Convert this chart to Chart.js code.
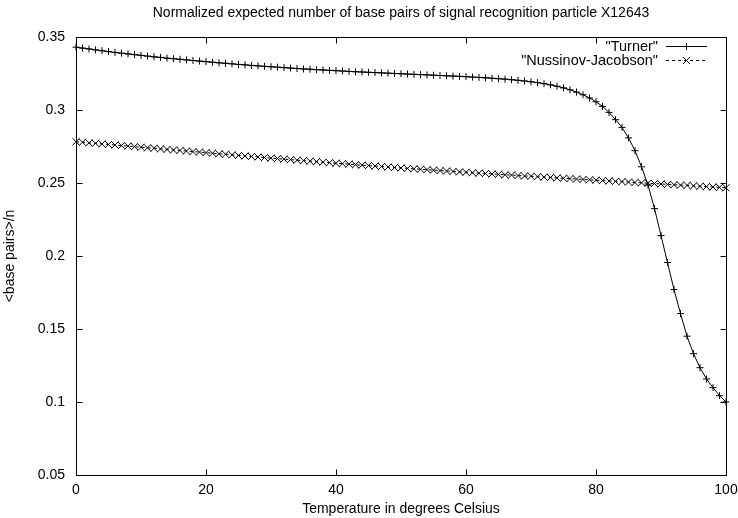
<!DOCTYPE html>
<html>
<head>
<meta charset="utf-8">
<script src="https://cdn.jsdelivr.net/npm/chart.js@4"></script>
<style>
  html, body { margin: 0; padding: 0; background: #fff; }
</style>
</head>
<body>
<canvas id="chart" width="738" height="518"></canvas>
<script>
const chartTitle = "Normalized expected number of base pairs of signal recognition particle X12643";
const xTitle = "Temperature in degrees Celsius";
const yTitle = "<base pairs>/n";
const seriesLabels = ['"Turner"', '"Nussinov-Jacobson"'];

const temperatures = [
  0, 1, 2, 3, 4, 5, 6, 7, 8, 9, 10, 11, 12, 13, 14, 15, 16, 17, 18, 19,
  20, 21, 22, 23, 24, 25, 26, 27, 28, 29, 30, 31, 32, 33, 34, 35, 36, 37, 38, 39,
  40, 41, 42, 43, 44, 45, 46, 47, 48, 49, 50, 51, 52, 53, 54, 55, 56, 57, 58, 59,
  60, 61, 62, 63, 64, 65, 66, 67, 68, 69, 70, 71, 72, 73, 74, 75, 76, 77, 78, 79,
  80, 81, 82, 83, 84, 85, 86, 87, 88, 89, 90, 91, 92, 93, 94, 95, 96, 97, 98, 99, 100
];

const turner = [
  0.3432, 0.3426, 0.3420, 0.3414, 0.3408, 0.3402, 0.3396, 0.3391, 0.3386, 0.3381,
  0.3376, 0.3371, 0.3366, 0.3362, 0.3357, 0.3353, 0.3349, 0.3345, 0.3341, 0.3337,
  0.3333, 0.3329, 0.3325, 0.3322, 0.3318, 0.3314, 0.3311, 0.3307, 0.3304, 0.3301,
  0.3298, 0.3295, 0.3292, 0.3289, 0.3286, 0.3283, 0.3281, 0.3278, 0.3276, 0.3273,
  0.3271, 0.3269, 0.3266, 0.3264, 0.3262, 0.3260, 0.3258, 0.3256, 0.3254, 0.3252,
  0.3250, 0.3248, 0.3246, 0.3244, 0.3242, 0.3240, 0.3238, 0.3236, 0.3234, 0.3232,
  0.3230, 0.3227, 0.3225, 0.3222, 0.3219, 0.3216, 0.3213, 0.3209, 0.3205, 0.3200,
  0.3195, 0.3189, 0.3182, 0.3174, 0.3164, 0.3153, 0.3140, 0.3124, 0.3106, 0.3084,
  0.3058, 0.3026, 0.2985, 0.2935, 0.2882, 0.2810, 0.2722, 0.2612, 0.2487, 0.2325,
  0.2140, 0.1955, 0.1770, 0.1605, 0.1450, 0.1330, 0.1234, 0.1157, 0.1097, 0.1042,
  0.0999
];

const nussinovJacobson = [
  0.2784, 0.2780, 0.2776, 0.2773, 0.2769, 0.2765, 0.2761, 0.2757, 0.2754, 0.2750,
  0.2746, 0.2742, 0.2739, 0.2735, 0.2731, 0.2727, 0.2724, 0.2720, 0.2716, 0.2713,
  0.2709, 0.2705, 0.2701, 0.2698, 0.2694, 0.2690, 0.2686, 0.2683, 0.2679, 0.2675,
  0.2671, 0.2668, 0.2664, 0.2661, 0.2657, 0.2654, 0.2650, 0.2647, 0.2643, 0.2640,
  0.2636, 0.2633, 0.2630, 0.2626, 0.2623, 0.2620, 0.2617, 0.2614, 0.2610, 0.2607,
  0.2604, 0.2601, 0.2598, 0.2595, 0.2592, 0.2589, 0.2586, 0.2583, 0.2580, 0.2577,
  0.2574, 0.2571, 0.2568, 0.2566, 0.2563, 0.2560, 0.2557, 0.2555, 0.2552, 0.2549,
  0.2547, 0.2544, 0.2541, 0.2539, 0.2536, 0.2533, 0.2531, 0.2528, 0.2525, 0.2523,
  0.2520, 0.2517, 0.2515, 0.2512, 0.2510, 0.2507, 0.2504, 0.2502, 0.2499, 0.2497,
  0.2494, 0.2491, 0.2489, 0.2486, 0.2484, 0.2481, 0.2478, 0.2476, 0.2473, 0.2471,
  0.2468
];

const fontFamily = '"Liberation Sans", Arial, Helvetica, sans-serif';

function toPoints(values) {
  return values.map((v, i) => ({ x: temperatures[i], y: v }));
}

// gnuplot style: full border, ticks pointing inward on all four sides
const framePlugin = {
  id: "frame",
  beforeDatasetsDraw(chart) {
    const { ctx, chartArea: a, scales } = chart;
    const left = Math.round(a.left) + 0.5;
    const right = Math.round(a.right) + 0.5;
    const top = Math.round(a.top) + 0.5;
    const bottom = Math.round(a.bottom) + 0.5;
    ctx.save();
    ctx.strokeStyle = "#000";
    ctx.lineWidth = 1;
    ctx.beginPath();
    scales.x.ticks.forEach((t) => {
      const px = Math.round(scales.x.getPixelForValue(t.value)) + 0.5;
      ctx.moveTo(px, bottom);
      ctx.lineTo(px, bottom - 6);
      ctx.moveTo(px, top);
      ctx.lineTo(px, top + 6);
    });
    scales.y.ticks.forEach((t) => {
      const py = Math.round(scales.y.getPixelForValue(t.value)) + 0.5;
      ctx.moveTo(left, py);
      ctx.lineTo(left + 6, py);
      ctx.moveTo(right, py);
      ctx.lineTo(right - 6, py);
    });
    ctx.stroke();
    ctx.strokeRect(left, top, right - left, bottom - top);
    ctx.restore();
  },
  afterDraw(chart) {
    const { ctx, chartArea: a } = chart;
    ctx.save();
    ctx.font = "14.5px " + fontFamily;
    ctx.textAlign = "right";
    ctx.textBaseline = "middle";
    ctx.fillStyle = "#000";
    const textRight = a.right - 68;
    const lineStart = a.right - 60;
    const lineEnd = a.right - 19;
    chart.data.datasets.forEach((ds, i) => {
      const y = Math.round(a.top + 9 + i * 13.5) + 0.5;
      ctx.fillText(ds.label, textRight, y);
      ctx.save();
      ctx.strokeStyle = "#000";
      ctx.lineWidth = 1;
      ctx.setLineDash(ds.borderDash || []);
      ctx.beginPath();
      ctx.moveTo(lineStart, y);
      ctx.lineTo(lineEnd, y);
      ctx.stroke();
      ctx.restore();
      Chart.helpers.drawPoint(ctx, {
        pointStyle: ds.pointStyle,
        radius: ds.pointRadius,
        rotation: 0,
        borderWidth: 1
      }, (lineStart + lineEnd) / 2, y);
    });
    ctx.restore();
  }
};

new Chart(document.getElementById("chart"), {
  type: "line",
  data: {
    datasets: [
      {
        label: seriesLabels[0],
        data: toPoints(turner),
        borderColor: "#000",
        borderWidth: 1,
        pointStyle: "cross",
        pointRadius: 3.5,
        pointBorderColor: "#000",
        pointBorderWidth: 1,
        tension: 0,
        clip: false
      },
      {
        label: seriesLabels[1],
        data: toPoints(nussinovJacobson),
        borderColor: "#000",
        borderWidth: 1,
        borderDash: [3, 3],
        pointStyle: "crossRot",
        pointRadius: 5,
        pointBorderColor: "#000",
        pointBorderWidth: 1,
        tension: 0,
        clip: false
      }
    ]
  },
  options: {
    responsive: false,
    animation: false,
    devicePixelRatio: 1,
    layout: { padding: { left: 0, right: 12, top: 0, bottom: 0 } },
    plugins: {
      legend: { display: false },
      tooltip: { enabled: false },
      title: {
        display: true,
        text: chartTitle,
        fullSize: false,
        color: "#000",
        font: { family: fontFamily, size: 14, weight: "normal" },
        padding: { top: 5, bottom: 15.5 }
      }
    },
    scales: {
      x: {
        type: "linear",
        min: 0,
        max: 100,
        afterFit(scale) {
          scale.height = 43.3;
          scale.paddingRight = 12;
        },
        grid: { display: false, drawTicks: false },
        border: { display: false },
        ticks: {
          stepSize: 20,
          padding: 7,
          color: "#000",
          font: { family: fontFamily, size: 14 },
          maxRotation: 0
        },
        title: {
          display: true,
          text: xTitle,
          color: "#000",
          font: { family: fontFamily, size: 14 },
          padding: { top: 0, bottom: 0.6 }
        }
      },
      y: {
        type: "linear",
        min: 0.05,
        max: 0.35,
        afterFit(scale) { scale.width = 76; },
        grid: { display: false, drawTicks: false },
        border: { display: false },
        ticks: {
          stepSize: 0.05,
          padding: 11,
          color: "#000",
          font: { family: fontFamily, size: 14 },
          callback: (v) => String(Math.round(v * 100) / 100)
        },
        title: {
          display: true,
          text: yTitle,
          color: "#000",
          font: { family: fontFamily, size: 14 },
          padding: { top: 1.6, bottom: 0 }
        }
      }
    }
  },
  plugins: [framePlugin]
});
</script>
</body>
</html>
